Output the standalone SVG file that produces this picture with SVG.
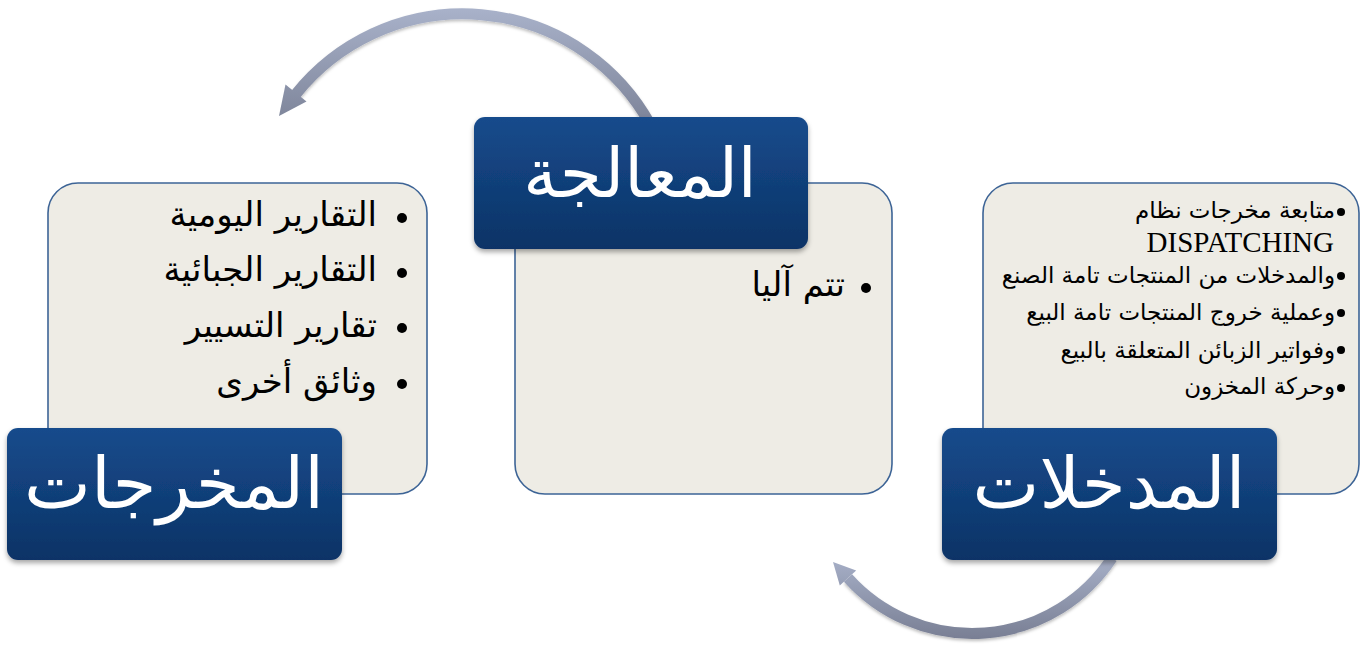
<svg xmlns="http://www.w3.org/2000/svg" width="1363" height="651" viewBox="0 0 1363 651">
<style>
.panel{fill:#eeece5;stroke:#3d6496;stroke-width:1.6}
.label{fill:url(#lblGrad);filter:url(#shadow)}
.lbltxt{fill:#ffffff;font-family:"DejaVu Sans",sans-serif;font-size:71px;text-anchor:middle}
.ar{fill:#000;font-family:"DejaVu Sans",sans-serif;text-anchor:end}
.big{font-size:34px}
.small{font-size:23px}
.latin{fill:#000;font-family:"Liberation Serif",serif;font-size:29px;text-anchor:end}
.dot{fill:#000}
.arc{fill:none;stroke-width:11;filter:url(#ashadow)}
</style>
<defs>
<linearGradient id="lblGrad" x1="0" y1="0" x2="0" y2="1">
<stop offset="0" stop-color="#164b8c"/>
<stop offset="1" stop-color="#0c3366"/>
</linearGradient>
<linearGradient id="topArc" gradientUnits="userSpaceOnUse" x1="0" y1="10" x2="0" y2="125">
<stop offset="0" stop-color="#a8b1c9"/>
<stop offset="1" stop-color="#7c8398"/>
</linearGradient>
<linearGradient id="botArc" gradientUnits="userSpaceOnUse" x1="0" y1="555" x2="0" y2="642">
<stop offset="0" stop-color="#a8b1c9"/>
<stop offset="1" stop-color="#777d92"/>
</linearGradient>
<filter id="shadow" x="-10%" y="-10%" width="120%" height="130%">
<feDropShadow dx="0" dy="3" stdDeviation="2.5" flood-color="#000" flood-opacity="0.35"/>
</filter>
<filter id="ashadow" x="-10%" y="-10%" width="120%" height="130%">
<feDropShadow dx="0" dy="2" stdDeviation="1.5" flood-color="#000" flood-opacity="0.25"/>
</filter>
</defs>

<g id="connectors">
<g id="arc-top">
<path class="arc" stroke="url(#topArc)" d="M 650.6 125 A 214 214 0 0 0 296 94"/>
<polygon fill="url(#topArc)" points="285.5,84.5 306.5,101.5 279,116"/>
</g>
<g id="arc-bottom">
<path class="arc" stroke="url(#botArc)" d="M 1112 558 A 167 167 0 0 1 848 578"/>
<polygon fill="url(#botArc)" points="839.8,585.4 856.2,570.6 833,562"/>
</g>
</g>

<g id="node-outputs">
<rect class="panel" x="48" y="183" width="379" height="311" rx="30"/>
<circle class="dot" cx="402" cy="218" r="5"/>
<circle class="dot" cx="402" cy="273" r="5"/>
<circle class="dot" cx="402" cy="328" r="5"/>
<circle class="dot" cx="402" cy="384" r="5"/>
<text class="ar big" x="377" y="226">التقارير اليومية</text>
<text class="ar big" x="377" y="281">التقارير الجبائية</text>
<text class="ar big" x="377" y="337">تقارير التسيير</text>
<text class="ar big" x="377" y="393">وثائق أخرى</text>
<rect class="label" x="7" y="428" width="335" height="132" rx="11"/>
<text class="lbltxt" x="174" y="508">المخرجات</text>
</g>

<g id="node-processing">
<rect class="panel" x="515" y="183" width="377" height="311" rx="30"/>
<circle class="dot" cx="866" cy="288" r="5"/>
<text class="ar big" x="845" y="296">تتم آليا</text>
<rect class="label" x="474" y="117" width="334" height="132" rx="11"/>
<text class="lbltxt" x="640" y="197" style="font-size:68px">المعالجة</text>
</g>

<g id="node-inputs">
<rect class="panel" x="983" y="183" width="376" height="311" rx="30"/>
<circle class="dot" cx="1341" cy="212" r="4"/>
<circle class="dot" cx="1341" cy="276" r="4"/>
<circle class="dot" cx="1341" cy="313" r="4"/>
<circle class="dot" cx="1341" cy="350" r="4"/>
<circle class="dot" cx="1341" cy="388" r="4"/>
<text class="ar small" x="1335" y="218">متابعة مخرجات نظام</text>
<text class="latin" x="1334" y="252">DISPATCHING</text>
<text class="ar small" x="1335" y="283">والمدخلات من المنتجات تامة الصنع</text>
<text class="ar small" x="1335" y="320">وعملية خروج المنتجات تامة البيع</text>
<text class="ar small" x="1335" y="358">وفواتير الزبائن المتعلقة بالبيع</text>
<text class="ar small" x="1335" y="394">وحركة المخزون</text>
<rect class="label" x="942" y="428" width="335" height="132" rx="11"/>
<text class="lbltxt" x="1109" y="508">المدخلات</text>
</g>
</svg>
